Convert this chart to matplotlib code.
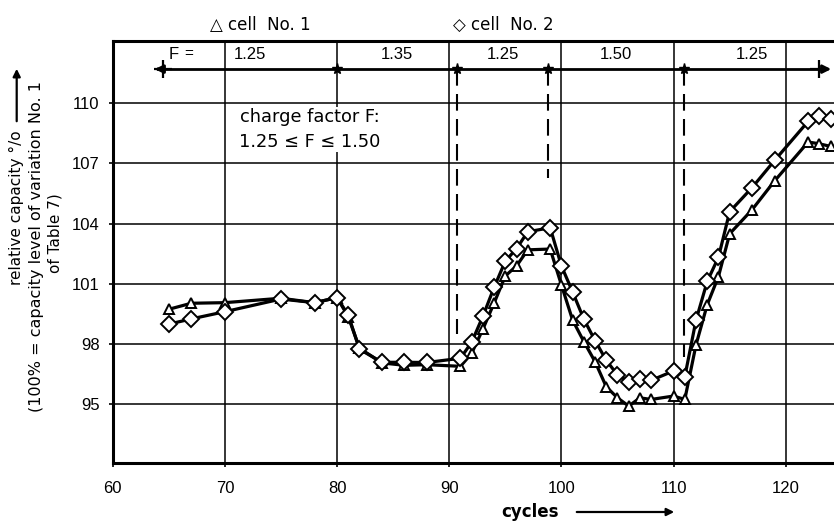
import matplotlib
matplotlib.use("Agg")
import matplotlib.pyplot as plt

plt.rcParams['font.family'] = ['Liberation Sans', 'DejaVu Sans']

# ---------------- data ----------------
cycles = [65, 67, 70, 75, 78, 80, 81, 82, 84, 86, 88, 91, 92, 93, 94, 95, 96, 97, 99,
          100, 101, 102, 103, 104, 105, 106, 107, 108, 110, 111, 112, 113, 114, 115,
          117, 119, 122, 123, 124]
cell1 = [99.74, 100.04, 100.07, 100.29, 100.07, 100.32, 99.37, 97.80, 97.07, 96.95,
         96.98, 96.90, 97.55, 98.75, 100.05, 101.40, 101.90, 102.70, 102.74,
         100.95, 99.20, 98.13, 97.13, 95.88, 95.33, 94.92, 95.33, 95.25, 95.42,
         95.25, 97.97, 99.97, 101.37, 103.50, 104.70, 106.13, 108.07, 107.98, 107.85]
cell2 = [99.00, 99.26, 99.62, 100.25, 100.07, 100.32, 99.45, 97.75, 97.10, 97.10,
         97.09, 97.30, 98.10, 99.39, 100.83, 102.14, 102.76, 103.60, 103.80,
         101.90, 100.60, 99.25, 98.18, 97.20, 96.47, 96.13, 96.27, 96.20, 96.67,
         96.38, 99.20, 101.13, 102.33, 104.60, 105.80, 107.15, 109.10, 109.35, 109.20]

f_bounds = [64.5, 80, 90.7, 98.8, 110.9, 123]
f_values = ['1.25', '1.35', '1.25', '1.50', '1.25']
f_level = 111.7
dash_x = [90.7, 98.8, 110.9]
dash_bottom = [98.5, 106.3, 97.35]

xticks = [60, 70, 80, 90, 100, 110, 120]
yticks = [95, 98, 101, 104, 107, 110]

# ---------------- figure ----------------
W, H = 834, 524
fig = plt.figure(figsize=(W / 100, H / 100), dpi=100)
ax = fig.add_axes([112.7 / W, 61.3 / H, (W - 112.7) / W, (462.7 - 41) / H])
ax.set_xlim(60, 124.3)
ax.set_ylim(92.1, 113.1)

ax.set_xticks(xticks)
ax.set_yticks(yticks)
ax.tick_params(direction='out', length=3, width=1.2, labelsize=12, colors='black')
ax.tick_params(axis='x', pad=10)
ax.tick_params(axis='y', pad=6.5)
ax.grid(True, color='black', linewidth=1.1)
ax.set_axisbelow(True)
for s in ['left', 'bottom', 'top']:
    ax.spines[s].set_linewidth(2.2)
ax.spines['right'].set_visible(False)

# series
ax.plot(cycles, cell1, color='black', lw=2.3, marker='^', ms=7, mfc='white',
        mec='black', mew=1.4, zorder=4)
ax.plot(cycles, cell2, color='black', lw=2.3, marker='D', ms=8.3, mfc='white',
        mec='black', mew=1.4, zorder=5)

# charge factor band
ax.plot([f_bounds[0], f_bounds[-1]], [f_level, f_level], color='black', lw=2.0, zorder=3)
ax.annotate('', xy=(63.5, f_level), xytext=(f_bounds[0], f_level),
            arrowprops=dict(arrowstyle='-|>', color='black', lw=2, mutation_scale=12))
ax.annotate('', xy=(124.3, f_level), xytext=(f_bounds[-1], f_level),
            arrowprops=dict(arrowstyle='-|>', color='black', lw=2, mutation_scale=12),
            annotation_clip=False)
ax.plot([f_bounds[0], f_bounds[-1]], [f_level, f_level], ls='none', marker='+',
        ms=13, mew=1.6, color='black', zorder=4)
ax.plot(f_bounds[1:-1], [f_level] * (len(f_bounds) - 2), ls='none', marker='*',
        ms=8, color='black', zorder=4)
for i, v in enumerate(f_values):
    xm = (f_bounds[i] + f_bounds[i + 1]) / 2
    ax.text(xm, 112.45, v, ha='center', va='center', fontsize=12)
ax.text(65.4, 112.45, 'F', ha='center', va='center', fontsize=12)
ax.text(66.8, 112.45, '=', ha='center', va='center', fontsize=11)

for xd, yb in zip(dash_x, dash_bottom):
    ax.plot([xd, xd], [f_level, yb], color='black', lw=1.5, ls=(0, (8, 4)), zorder=3)

# annotation box
ax.text(77.6, 108.7, 'charge factor F:\n1.25 ≤ F ≤ 1.50', ha='center', va='center',
        fontsize=12.8, family='DejaVu Sans', linespacing=1.45, multialignment='center',
        bbox=dict(facecolor='white', edgecolor='none', pad=1.2), zorder=6)

# legend (top)
fig.text(210 / W, 1 - 25 / H, '△ cell  No. 1', ha='left', va='center', fontsize=12,
         family='DejaVu Sans')
fig.text(453 / W, 1 - 25 / H, '◇ cell  No. 2', ha='left', va='center', fontsize=12,
         family='DejaVu Sans')

# y label
fig.text(16.7 / W, 1 - 208 / H, 'relative capacity °/o', rotation=90, ha='center',
         va='center', fontsize=11, family='DejaVu Sans')
fig.add_artist(matplotlib.patches.FancyArrowPatch(
    (16.7 / W, 1 - 124 / H), (16.7 / W, 1 - 66 / H), transform=fig.transFigure,
    arrowstyle='-|>', mutation_scale=11, color='black', lw=1.6))
fig.text(36.7 / W, 1 - 246 / H, '(100% = capacity level of variation No. 1',
         rotation=90, ha='center', va='center', fontsize=11.5, family='DejaVu Sans')
fig.text(55 / W, 1 - 233 / H, 'of Table 7)', rotation=90, ha='center', va='center',
         fontsize=11, family='DejaVu Sans')

# x label
fig.text(530 / W, 1 - 512 / H, 'cycles', ha='center', va='center', fontsize=12,
         fontweight='bold', family='DejaVu Sans')
fig.add_artist(matplotlib.patches.FancyArrowPatch(
    (574 / W, 1 - 512 / H), (677 / W, 1 - 512 / H), transform=fig.transFigure,
    arrowstyle='-|>', mutation_scale=11, color='black', lw=1.6))

fig.savefig('out.png', dpi=100)
